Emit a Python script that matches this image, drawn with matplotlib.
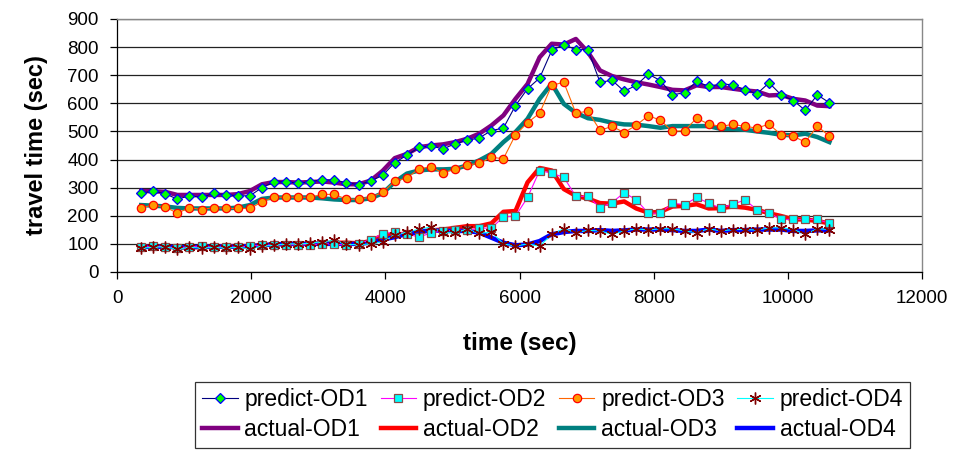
import numpy as np
import matplotlib
matplotlib.use("Agg")
import matplotlib.pyplot as plt

plt.rcParams['font.family'] = ['Liberation Sans', 'DejaVu Sans']

# sample times (sec), one every 180 s
t = np.arange(360, 10621, 180)

pred_od1 = [280, 288, 278, 259, 271, 265, 280, 275, 271, 271, 300,
            320, 321, 316, 321, 328, 328, 317, 311, 323, 344, 389,
            415, 443, 448, 438, 456, 468, 477, 503, 512, 592, 652,
            690, 788, 809, 791, 791, 675, 682, 643, 664, 704, 681, 630, 638,
            678, 660, 669, 666, 648, 634, 673, 630, 610, 575, 630, 602]
pred_od2 = [90, 92, 90, 85, 90, 92, 88, 90, 88, 92, 95,
            97, 97, 97, 97, 100, 100, 95, 100, 115, 136, 142,
            136, 124, 139,
            146, 148, 148, 156, 156, 196, 199, 265, 361, 351,
            337, 269, 269, 229, 247, 282, 257, 209, 209, 245,
            239, 265, 245, 227, 241, 256, 222, 210, 187, 187,
            187, 187, 173]
pred_od3 = [229, 238, 231, 209, 229, 222, 229, 226, 226, 226, 249,
            266, 266, 266, 266, 276, 276, 259, 259, 266, 283, 323,
            334, 367, 374, 352, 367, 381, 386, 408, 403, 488, 531,
            565, 664, 675, 565, 572, 504, 518, 496, 522, 556, 540, 500, 503,
            547, 526, 518, 525, 518, 512, 526, 488, 483, 462, 519, 483]
pred_od4 = [85, 88, 90, 80, 88, 85, 88, 85, 88, 82, 92,
            95, 100, 100, 102, 108, 112, 98, 97, 100, 108, 130,
            142, 152, 160,
            140, 140, 152, 137, 142, 100, 92, 100, 92, 134,
            154, 140, 148, 146, 134, 146, 154, 149, 154, 154,
            146, 140, 154, 146, 151, 151, 149, 157, 157, 151,
            134, 154, 151]

act_od1 = [288, 287, 285, 274, 274, 274, 274, 274, 277, 288, 312,
           320, 320, 318, 320, 322, 318, 312, 312, 325, 360, 405,
           420, 444, 450, 454, 462, 474, 492, 521, 557, 616, 669,
           764, 812, 809, 829, 782, 717, 697, 685, 675, 667, 658, 648, 646,
           664, 658, 658, 652, 646, 642, 628, 630, 616, 610, 592, 590]
act_od2 = [90, 90, 90, 88, 88, 88, 90, 92, 92, 92, 95,
           98, 100, 100, 100, 102, 104, 104, 102, 110, 130, 133,
           136, 142, 148,
           151, 157, 163, 163, 173, 214, 217, 319, 370, 361,
           295, 271, 261, 245, 243, 251, 226, 211, 214, 233,
           235, 241, 226, 227, 233, 229, 221, 209, 199, 187,
           187, 181, 173]
act_od3 = [238, 236, 233, 228, 226, 226, 226, 226, 229, 238, 260,
           265, 265, 265, 265, 262, 258, 256, 256, 262, 280, 320,
           350, 361, 365, 365, 367, 379, 397, 420, 462, 498, 545,
           616, 670, 598, 566, 547, 541, 531, 525, 524, 519, 513, 519, 519,
           519, 519, 509, 509, 506, 500, 495, 488, 486, 492, 480, 462]
act_od4 = [88, 90, 90, 88, 88, 90, 90, 90, 90, 92, 95,
           98, 100, 100, 100, 100, 100, 100, 100, 105, 115, 124,
           135, 142, 148,
           146, 146, 146, 140, 122, 104, 95, 98, 110, 134,
           142, 146, 146, 149, 146, 148, 151, 151, 151, 149,
           146, 146, 151, 146, 149, 149, 151, 151, 151, 146,
           146, 148, 148]

fig = plt.figure(figsize=(9.61, 4.5), dpi=100)
ax = fig.add_axes([0.1218, 0.3956, 0.8376, 0.5622])

# thick "actual" lines underneath
thick = 3.2
a1, = ax.plot(t, act_od1, color='#800080', lw=thick, label='actual-OD1', zorder=2)
a2, = ax.plot(t, act_od2, color='#FF0000', lw=thick, label='actual-OD2', zorder=2)
a3, = ax.plot(t, act_od3, color='#008080', lw=thick, label='actual-OD3', zorder=2)
a4, = ax.plot(t, act_od4, color='#0000FF', lw=thick, label='actual-OD4', zorder=2)

# thin "predict" lines with markers on top
p1, = ax.plot(t, pred_od1, color='#000080', lw=0.8, marker='D', ms=5,
              mfc='#00FF00', mec='#0000FF', mew=0.9, label='predict-OD1', zorder=3)
p2, = ax.plot(t, pred_od2, color='#FF00FF', lw=0.8, marker='s', ms=5.5,
              mfc='#00FFFF', mec='#8B4A4A', mew=0.9, label='predict-OD2', zorder=3)
p3, = ax.plot(t, pred_od3, color='#FF6600', lw=0.8, marker='o', ms=6,
              mfc='#FF9900', mec='#FF0000', mew=0.9, label='predict-OD3', zorder=3)
p4, = ax.plot(t, pred_od4, color='#00FFFF', lw=0.8, marker=(6, 2, 0), ms=8.5,
              mfc='none', mec='#800000', mew=1.0, label='predict-OD4', zorder=3)

ax.set_xlim(0, 12000)
ax.set_ylim(0, 900)
ax.set_xticks(np.arange(0, 12001, 2000))
ax.set_yticks(np.arange(0, 901, 100))
ax.yaxis.grid(True, color='#222222', lw=0.9)
ax.set_axisbelow(True)
ax.tick_params(direction='out', length=5, width=0.9, labelsize=13.5,
               color='black', pad=8)

for side in ['left', 'bottom']:
    ax.spines[side].set_color('black')
    ax.spines[side].set_linewidth(0.9)
for side in ['top', 'right']:
    ax.spines[side].set_color('#888888')
    ax.spines[side].set_linewidth(1.0)

ax.set_xlabel('time (sec)', fontsize=17.5, fontweight='bold', labelpad=18)
ax.set_ylabel('travel time (sec)', fontsize=17, fontweight='bold', labelpad=14)

# legend: predict series on the first row, actual on the second
handles = [p1, a1, p2, a2, p3, a3, p4, a4]
leg = fig.legend(handles=handles, labels=[h.get_label() for h in handles],
                 ncol=4, loc='lower center', bbox_to_anchor=(0.575, 0.004),
                 fontsize=16.5, frameon=True, fancybox=False, edgecolor='black',
                 handlelength=1.55, handletextpad=0.3, columnspacing=0.55,
                 borderpad=0.3, labelspacing=0.3, borderaxespad=0.0)
leg.get_frame().set_linewidth(0.9)

fig.savefig('out.png', dpi=100, facecolor='white')
